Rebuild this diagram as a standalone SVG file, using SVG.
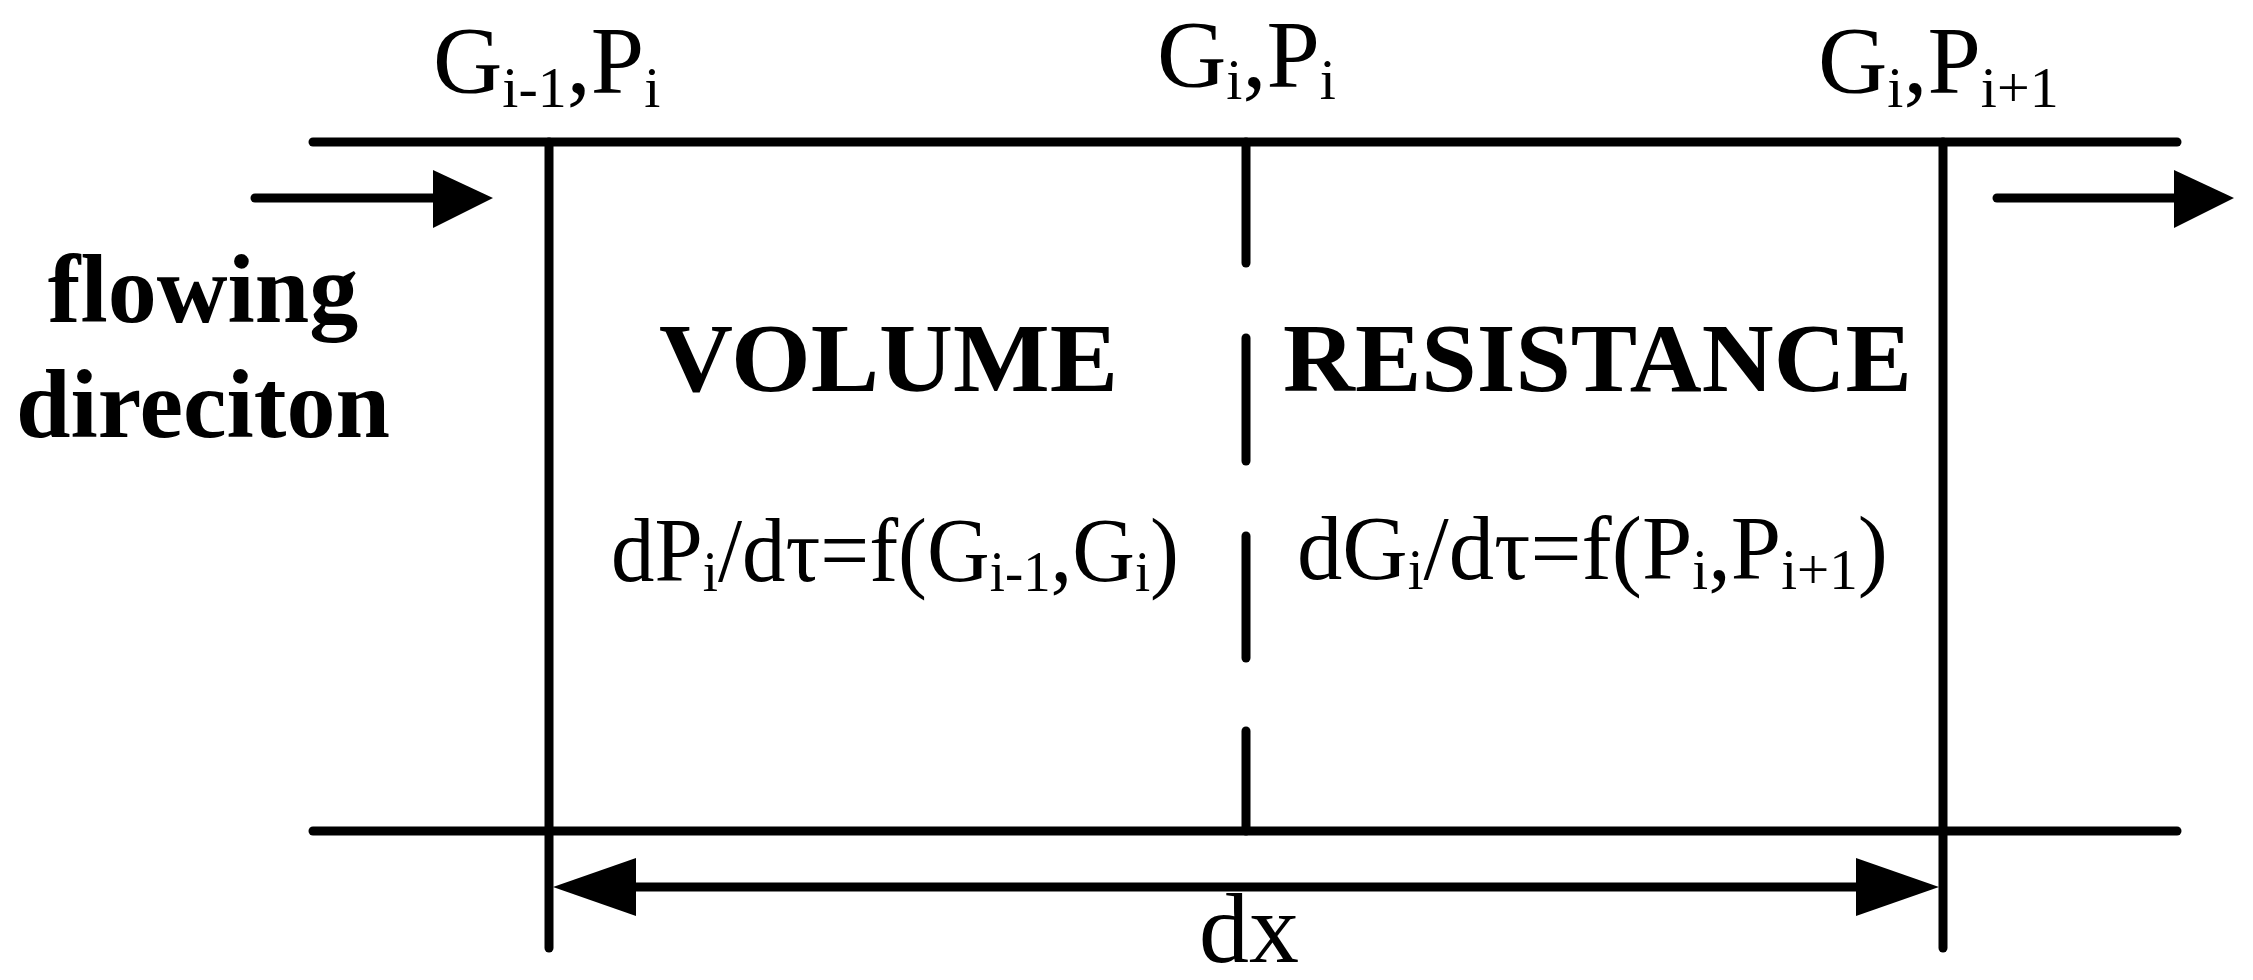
<svg xmlns="http://www.w3.org/2000/svg" width="2253" height="980" viewBox="0 0 2253 980">
<style>
.ln{stroke:#000;stroke-width:9;fill:none;stroke-linecap:round}
.hd{fill:#000;stroke:none}
.t{font-family:"Liberation Serif","Times New Roman",serif;fill:#000}
.b{font-family:"Liberation Serif","Times New Roman",serif;font-weight:bold;fill:#000}
</style>
<rect width="2253" height="980" fill="#fff"/>
<g id="connectors">
<line class="ln" x1="313" y1="142" x2="2177" y2="142"/>
<line class="ln" x1="313" y1="831" x2="2177" y2="831"/>
<line class="ln" x1="549" y1="142" x2="549" y2="948"/>
<line class="ln" x1="1943" y1="142" x2="1943" y2="948"/>
<line class="ln" x1="1246" y1="142" x2="1246" y2="263"/>
<line class="ln" x1="1246" y1="338" x2="1246" y2="461"/>
<line class="ln" x1="1246" y1="536" x2="1246" y2="658"/>
<line class="ln" x1="1246" y1="731" x2="1246" y2="831"/>
<line class="ln" x1="255" y1="198" x2="440" y2="198"/>
<polygon class="hd" points="433,170 493,198 433,228"/>
<line class="ln" x1="1997" y1="198" x2="2180" y2="198"/>
<polygon class="hd" points="2174,170 2234,198 2174,228"/>
<line x1="620" y1="887" x2="1870" y2="887" stroke="#000" stroke-width="9"/>
<polygon class="hd" points="553,887 636,858 636,916"/>
<polygon class="hd" points="1939,887 1856,858 1856,916"/>
</g>
<g id="label-left">
<text class="t" x="433" y="93" font-size="96">G<tspan font-size="58" dy="14">i-1</tspan><tspan dy="-14">,P</tspan><tspan font-size="58" dy="14">i</tspan></text>
</g>
<g id="label-center">
<text class="t" x="1157" y="87" font-size="96">G<tspan font-size="58" dy="12">i</tspan><tspan dy="-12">,P</tspan><tspan font-size="58" dy="12">i</tspan></text>
</g>
<g id="label-right">
<text class="t" x="1818" y="93" font-size="96">G<tspan font-size="58" dy="14">i</tspan><tspan dy="-14">,P</tspan><tspan font-size="58" dy="14">i+1</tspan></text>
</g>
<g id="flow-label">
<text class="b" x="203" y="322" font-size="98" text-anchor="middle">flowing</text>
<text class="b" x="203" y="437" font-size="98" text-anchor="middle">direciton</text>
</g>
<g id="volume">
<text class="b" x="659" y="391" font-size="98" textLength="459" lengthAdjust="spacingAndGlyphs">VOLUME</text>
<text class="t" x="611" y="581" font-size="92" textLength="568" lengthAdjust="spacingAndGlyphs">dP<tspan font-size="58" dy="10">i</tspan><tspan dy="-10">/dτ=f(G</tspan><tspan font-size="58" dy="10">i-1</tspan><tspan dy="-10">,G</tspan><tspan font-size="58" dy="10">i</tspan><tspan dy="-10">)</tspan></text>
</g>
<g id="resistance">
<text class="b" x="1283" y="391" font-size="98" textLength="629" lengthAdjust="spacingAndGlyphs">RESISTANCE</text>
<text class="t" x="1297" y="579" font-size="92" textLength="591" lengthAdjust="spacingAndGlyphs">dG<tspan font-size="58" dy="10">i</tspan><tspan dy="-10">/dτ=f(P</tspan><tspan font-size="58" dy="10">i</tspan><tspan dy="-10">,P</tspan><tspan font-size="58" dy="10">i+1</tspan><tspan dy="-10">)</tspan></text>
</g>
<g id="dx-label">
<text class="t" x="1199" y="962" font-size="100">dx</text>
</g>
</svg>
